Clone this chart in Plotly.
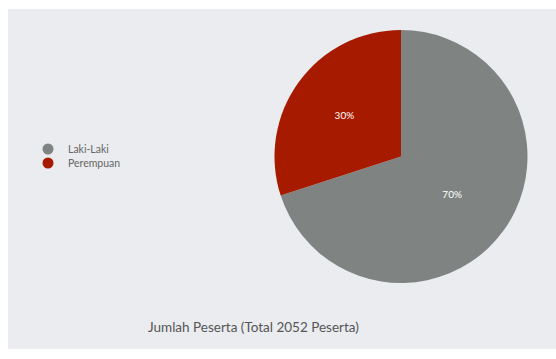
import plotly.graph_objects as go

labels = ["Laki-Laki", "Perempuan"]
values = [70, 30]
colors = ["#7f8482", "#a61b00"]
title_text = "Jumlah Peserta (Total 2052 Peserta)"

W, H = 556, 359
FONT = "Lato, 'Open Sans', sans-serif"

fig = go.Figure()
fig.add_trace(go.Pie(
    labels=labels, values=values,
    marker=dict(colors=colors, line=dict(width=0)),
    sort=False, direction="clockwise", rotation=0,
    textinfo="percent", textposition="inside",
    insidetextfont=dict(color="white", size=10, family=FONT),
    showlegend=False, hole=0,
    domain=dict(x=[274 / W, 528 / W], y=[1 - 283 / H, 1 - 30 / H]),
))
legend_rows = [149, 163]
for i, (lab, col) in enumerate(zip(labels, colors)):
    fig.add_trace(go.Scatter(
        x=[None], y=[None], mode="markers", name=lab,
        marker=dict(symbol="circle", size=11, color=col),
        showlegend=True, legend="legend" if i == 0 else "legend2",
    ))

leg_common = dict(xanchor="left", yanchor="middle", bgcolor="rgba(0,0,0,0)",
                  font=dict(size=10.5, color="#666666", family=FONT), itemwidth=30,
                  borderwidth=0)

fig.update_layout(
    width=W, height=H,
    margin=dict(l=0, r=0, t=0, b=0),
    paper_bgcolor="white", plot_bgcolor="rgba(0,0,0,0)",
    xaxis=dict(visible=False), yaxis=dict(visible=False),
    font=dict(family=FONT, color="#606060"),
    legend=dict(x=28 / W, y=1 - legend_rows[0] / H, **leg_common),
    legend2=dict(x=28 / W, y=1 - legend_rows[1] / H, **leg_common),
    shapes=[dict(type="rect", xref="paper", yref="paper",
                 x0=8 / W, x1=1, y0=1 - 349 / H, y1=1 - 9 / H,
                 fillcolor="#eaecef", line=dict(width=0), layer="below")],
    annotations=[dict(text=title_text, xref="paper", yref="paper",
                      x=253 / W, y=1 - 327 / H, xanchor="center", yanchor="middle",
                      showarrow=False, font=dict(size=13.5, color="#555555", family=FONT))],
)

fig.write_html("out.html")
